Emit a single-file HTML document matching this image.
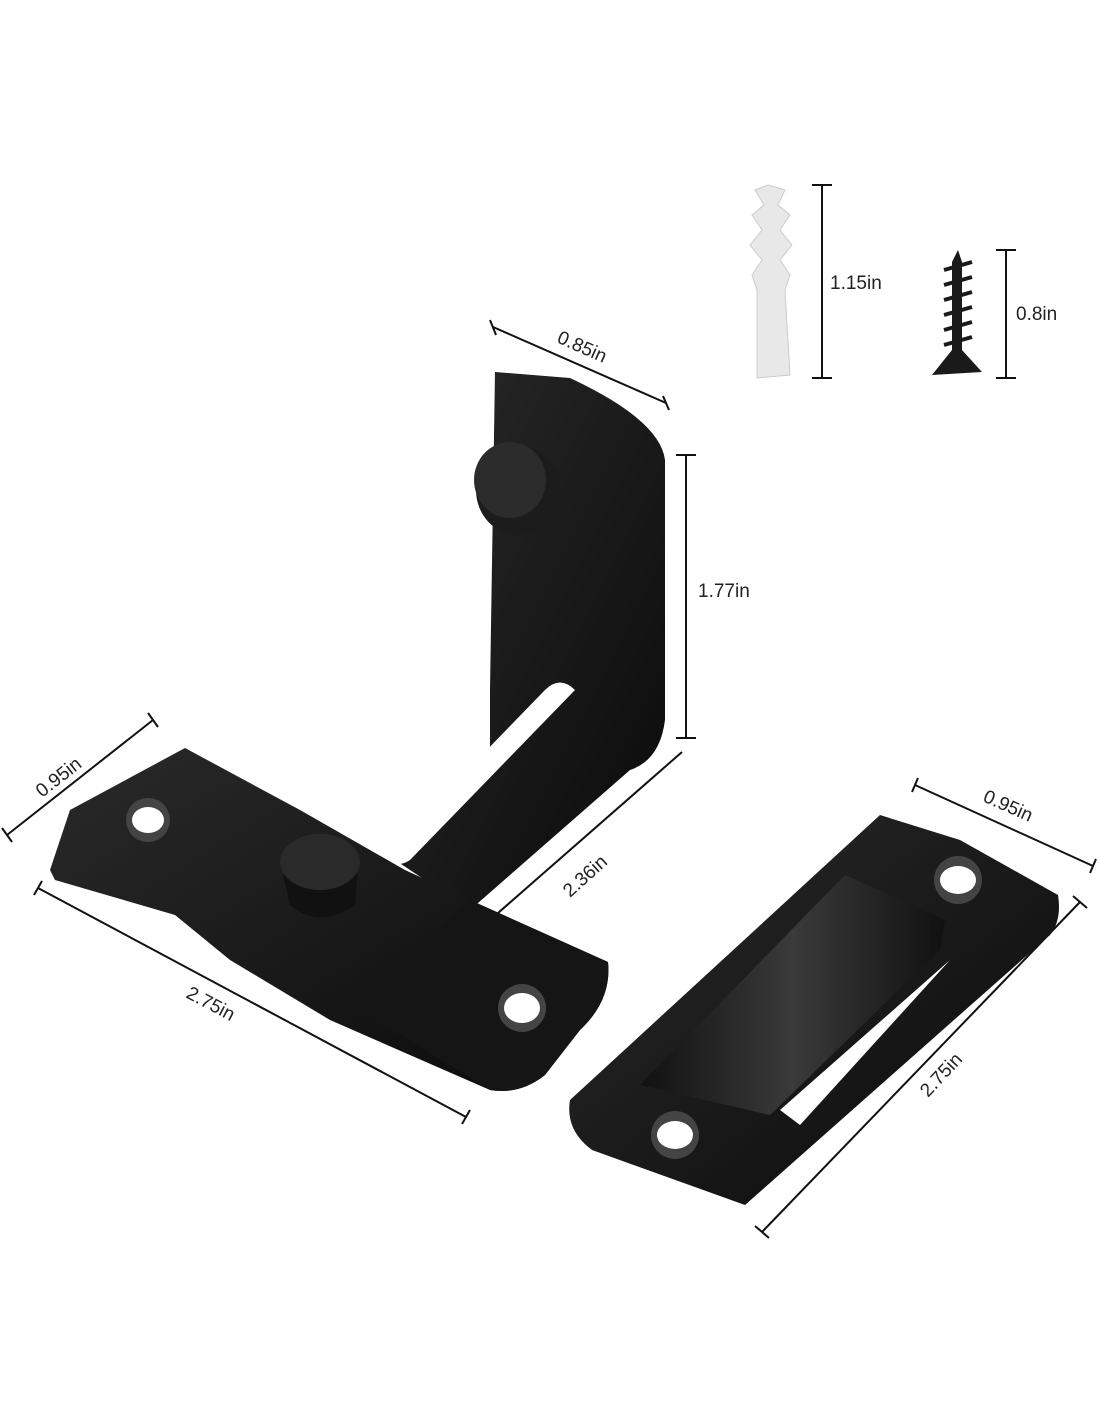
<!DOCTYPE html>
<html><head><style>
body{margin:0;background:#fff;}
svg{display:block}
text{font-family:"Liberation Sans",sans-serif;font-size:19px;fill:#222}
</style></head><body>
<svg width="1100" height="1422" viewBox="0 0 1100 1422">
<defs>
<linearGradient id="g1" x1="0" y1="0" x2="1" y2="1"><stop offset="0" stop-color="#2a2a2a"/><stop offset="1" stop-color="#0a0a0a"/></linearGradient>
<linearGradient id="g2" x1="0" y1="0" x2="1" y2="0"><stop offset="0" stop-color="#111"/><stop offset=".5" stop-color="#3a3a3a"/><stop offset="1" stop-color="#111"/></linearGradient>
</defs>
<g stroke="#111" stroke-width="2" fill="none">
<line x1="493" y1="327" x2="666" y2="403"/><line x1="490" y1="320" x2="496" y2="335"/><line x1="663" y1="396" x2="669" y2="410"/>
<line x1="686" y1="455" x2="686" y2="738"/><line x1="676" y1="455" x2="696" y2="455"/><line x1="676" y1="738" x2="696" y2="738"/>
<line x1="822" y1="185" x2="822" y2="378"/><line x1="812" y1="185" x2="832" y2="185"/><line x1="812" y1="378" x2="832" y2="378"/>
<line x1="1006" y1="250" x2="1006" y2="378"/><line x1="996" y1="250" x2="1016" y2="250"/><line x1="996" y1="378" x2="1016" y2="378"/>
<line x1="7" y1="835" x2="153" y2="720"/><line x1="2" y1="828" x2="12" y2="842"/><line x1="148" y1="713" x2="158" y2="727"/>
<line x1="38" y1="888" x2="466" y2="1117"/><line x1="42" y1="881" x2="34" y2="895"/><line x1="470" y1="1110" x2="462" y2="1124"/>
<line x1="370" y1="1025" x2="682" y2="752"/><line x1="365" y1="1019" x2="375" y2="1031"/>
<line x1="915" y1="785" x2="1093" y2="866"/><line x1="918" y1="778" x2="912" y2="792"/><line x1="1096" y1="859" x2="1090" y2="873"/>
<line x1="1080" y1="902" x2="762" y2="1232"/><line x1="1073" y1="896" x2="1087" y2="908"/><line x1="755" y1="1226" x2="769" y2="1238"/>
</g>
<text transform="translate(556,342) rotate(24)">0.85in</text>
<text x="698" y="597">1.77in</text>
<text x="830" y="289">1.15in</text>
<text x="1016" y="320">0.8in</text>
<text transform="translate(42,798) rotate(-38)">0.95in</text>
<text transform="translate(185,997) rotate(28)">2.75in</text>
<text transform="translate(570,898) rotate(-42)">2.36in</text>
<text transform="translate(982,801) rotate(24)">0.95in</text>
<text transform="translate(928,1098) rotate(-47)">2.75in</text>
<!-- anchor -->
<path d="M768 185 L785 190 L778 205 L790 215 L780 230 L792 245 L780 260 L790 275 L785 290 L790 375 L757 378 L757 290 L752 275 L762 260 L750 245 L762 230 L752 215 L764 205 L755 190 Z" fill="#e8e8e8" stroke="#ccc"/>
<!-- screw -->
<path d="M958 250 L962 262 L962 350 L982 372 L932 375 L952 350 L952 262 Z" fill="#1a1a1a"/>
<g stroke="#1a1a1a" stroke-width="4"><line x1="944" y1="270" x2="972" y2="262"/><line x1="944" y1="285" x2="972" y2="277"/><line x1="944" y1="300" x2="972" y2="292"/><line x1="944" y1="315" x2="972" y2="307"/><line x1="944" y1="330" x2="972" y2="322"/><line x1="944" y1="345" x2="972" y2="337"/></g>
<!-- vertical bracket -->
<path d="M495 372 L570 378 Q660 420 665 460 L665 720 Q660 760 630 770 L470 910 L395 860 L490 760 L490 690 Z" fill="url(#g1)"/>
<path d="M545 690 Q560 675 575 690 L410 860 Q395 870 385 855 Z" fill="#fff"/>
<ellipse cx="518" cy="490" rx="42" ry="45" fill="#1c1c1c"/>
<ellipse cx="510" cy="480" rx="36" ry="38" fill="#2c2c2c"/>
<!-- left plate -->
<path d="M50 870 L70 810 L185 748 L300 810 L405 870 L470 900 L608 962 Q612 1000 580 1030 L545 1075 Q520 1095 490 1090 L330 1020 L230 960 L175 915 L55 880 Z" fill="url(#g1)"/>
<path d="M360 1010 L470 900 L608 962 Q612 1000 580 1030 L545 1075 Q520 1095 490 1090 Z" fill="#151515"/>
<circle cx="148" cy="820" r="22" fill="#444"/><ellipse cx="148" cy="820" rx="16" ry="13" fill="#fff"/>
<circle cx="522" cy="1008" r="24" fill="#444"/><ellipse cx="522" cy="1008" rx="18" ry="15" fill="#fff"/>
<path d="M282 870 L290 905 Q320 930 355 905 L358 865 Z" fill="#111"/>
<ellipse cx="320" cy="862" rx="40" ry="28" fill="#2a2a2a"/>
<!-- right plate -->
<path d="M570 1100 L880 815 L960 840 L1058 895 Q1062 920 1050 935 L745 1205 L592 1150 Q565 1130 570 1100 Z" fill="url(#g1)"/>
<path d="M640 1085 L845 875 L945 920 L940 950 L770 1115 Z" fill="url(#g2)"/>
<path d="M780 1110 L950 960 L800 1125 Z" fill="#fff"/>
<circle cx="958" cy="880" r="24" fill="#444"/><ellipse cx="958" cy="880" rx="18" ry="14" fill="#fff"/>
<circle cx="675" cy="1135" r="24" fill="#444"/><ellipse cx="675" cy="1135" rx="18" ry="14" fill="#fff"/>
</svg>
</body></html>
